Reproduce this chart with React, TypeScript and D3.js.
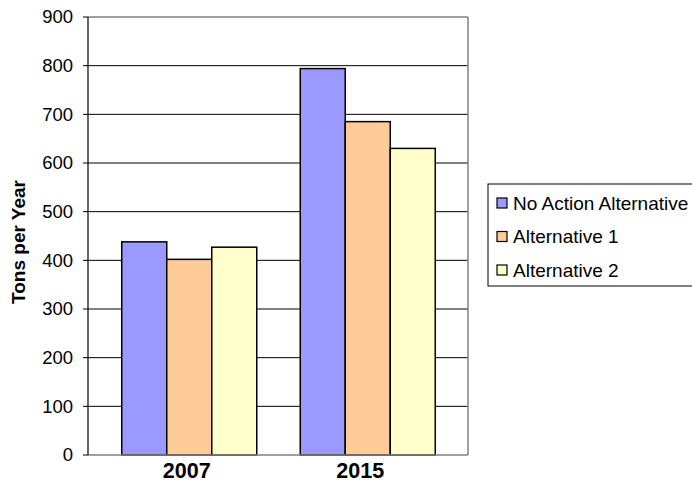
import React from "react";
import * as d3 from "d3";

// Emissions by year under each alternative (tons per year)
const categories = ["2007", "2015"];
const seriesNames = ["No Action Alternative", "Alternative 1", "Alternative 2"];
const noAction = [438, 794];
const alternative1 = [402, 685];
const alternative2 = [427, 630];
const yTicks = [0, 100, 200, 300, 400, 500, 600, 700, 800, 900];

const seriesValues = [noAction, alternative1, alternative2];
const colors = ["#9999FF", "#FFCC99", "#FFFFCC"];

const W = 692;
const H = 483;
const plot = { left: 88, right: 468, top: 17, bottom: 455 };
const FONT = "'Liberation Sans', Arial, sans-serif";

export default function App() {
  const y = d3.scaleLinear().domain([0, 900]).range([plot.bottom, plot.top]);
  const x0 = d3.scaleBand<string>().domain(categories).range([100, 457]).padding(0);
  const groupW = 135;
  const x1 = d3.scaleBand<string>().domain(seriesNames).range([0, groupW]).padding(0);
  const xLabel = d3.scaleBand<string>().domain(categories).range([100, 447]).padding(0);

  return (
    <svg
      width={W}
      height={H}
      style={{ position: "absolute", left: 0, top: 0, background: "#fff" }}
      fontFamily={FONT}
    >
      {/* gridlines */}
      {yTicks.slice(1, -1).map((t) => (
        <line key={t} x1={plot.left} x2={plot.right} y1={y(t)} y2={y(t)} stroke="#000" strokeWidth={1} />
      ))}
      {/* plot area border */}
      <line x1={plot.left} x2={plot.right} y1={y(900)} y2={y(900)} stroke="#808080" strokeWidth={1.5} />
      <line x1={plot.right} x2={plot.right} y1={plot.top} y2={plot.bottom} stroke="#808080" strokeWidth={1.5} />

      {/* bars */}
      {categories.map((c, ci) => {
        const gx = x0(c)! + (x0.bandwidth() - groupW) / 2;
        return seriesNames.map((s, si) => {
          const v = seriesValues[si][ci];
          return (
            <rect
              key={c + s}
              x={gx + x1(s)!}
              y={y(v)}
              width={x1.bandwidth()}
              height={y(0) - y(v)}
              fill={colors[si]}
              stroke="#000"
              strokeWidth={1.5}
            />
          );
        });
      })}

      {/* axes */}
      <line x1={plot.left} x2={plot.right} y1={plot.bottom} y2={plot.bottom} stroke="#808080" strokeWidth={1.5} />
      <line x1={plot.left} x2={plot.left} y1={plot.top} y2={plot.bottom} stroke="#000" strokeWidth={1.2} />
      {yTicks.map((t) => (
        <g key={t}>
          <line x1={plot.left - 5} x2={plot.left} y1={y(t)} y2={y(t)} stroke="#000" strokeWidth={1} />
          <text x={73} y={y(t)} dy="0.35em" textAnchor="end" fontSize={18.5} fill="#000">
            {t}
          </text>
        </g>
      ))}
      {categories.map((c) => (
        <text
          key={c}
          x={xLabel(c)! + xLabel.bandwidth() / 2}
          y={478}
          textAnchor="middle"
          fontSize={21.5}
          fontWeight="bold"
          fill="#000"
        >
          {c}
        </text>
      ))}
      <text
        transform={`translate(25,${(plot.top + plot.bottom) / 2 + 6}) rotate(-90)`}
        textAnchor="middle"
        fontSize={19}
        fontWeight="bold"
        fill="#000"
      >
        Tons per Year
      </text>

      {/* legend */}
      <rect x={488} y={184} width={220} height={102} fill="#fff" stroke="#000" strokeWidth={1} />
      {seriesNames.map((s, i) => {
        const cy = 203 + i * 33.5;
        return (
          <g key={s}>
            <rect x={497} y={cy - 5} width={10} height={10} fill={colors[i]} stroke="#000" strokeWidth={1.2} />
            <text x={513} y={cy} dy="0.35em" fontSize={19} fill="#000">
              {s}
            </text>
          </g>
        );
      })}
    </svg>
  );
}
